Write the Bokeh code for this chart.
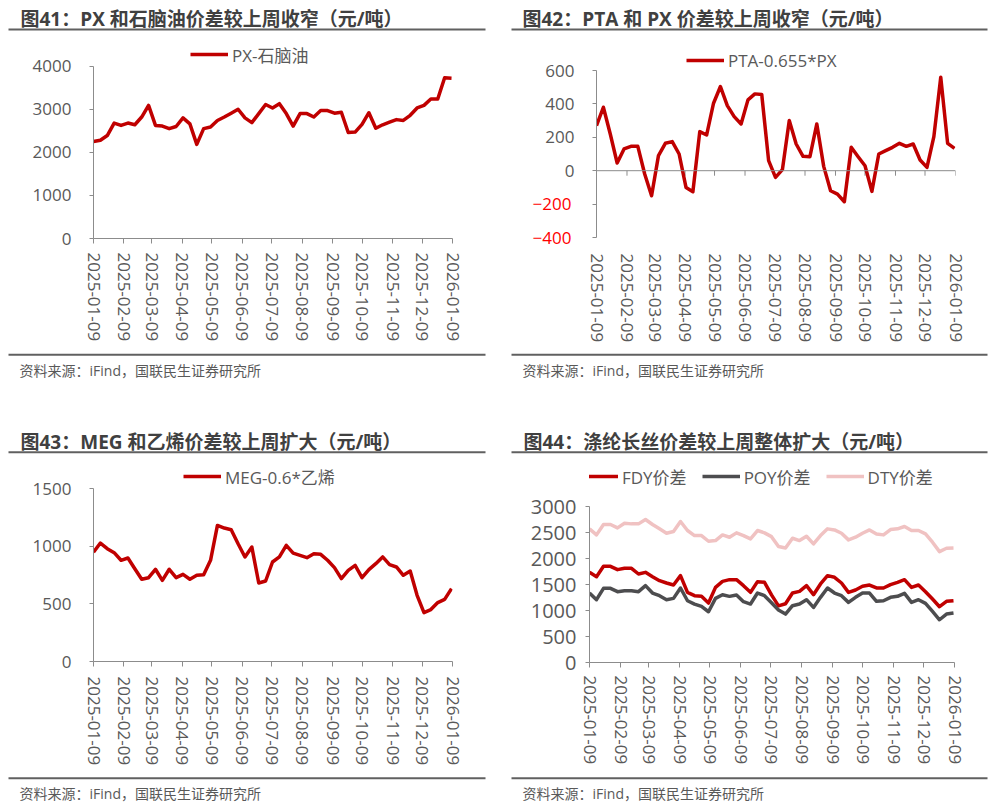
import pandas as pd
from bokeh.plotting import figure
from bokeh.layouts import column, row
from bokeh.models import (Range1d, FixedTicker, DatetimeTickFormatter, Legend, LegendItem,
                          LinearAxis, CustomJSTickFormatter, Span)
from bokeh.embed import file_html
from bokeh.resources import INLINE
from bokeh.core.properties import value

# ---------------- data ----------------
week_dates = pd.date_range("2025-01-09", periods=53, freq="7D")

x_tick_labels = ["2025-01-09", "2025-02-09", "2025-03-09", "2025-04-09", "2025-05-09",
                 "2025-06-09", "2025-07-09", "2025-08-09", "2025-09-09", "2025-10-09",
                 "2025-11-09", "2025-12-09", "2026-01-09"]

px_naphtha = [2250, 2280, 2390, 2680, 2625, 2680, 2640, 2820, 3090, 2625,
              2610, 2550, 2600, 2800, 2660, 2185, 2550, 2590, 2740, 2820,
              2910, 3000, 2800, 2690, 2900, 3110, 3030, 3130, 2900, 2610,
              2900, 2900, 2820, 2970, 2970, 2910, 2930, 2460, 2470, 2650,
              2920, 2560, 2640, 2700, 2760, 2740, 2860, 3030, 3090, 3240,
              3240, 3730, 3720]

pta_px = [270, 380, 220, 46, 130, 146, 146, -20, -150, 90,
          164, 174, 100, -100, -126, 234, 214, 404, 504, 390,
          324, 280, 424, 460, 456, 60, -40, 6, 300, 160,
          86, 84, 280, 26, -120, -140, -186, 140, 84, 30,
          -124, 100, 120, 140, 164, 146, 160, 64, 20, 204,
          560, 164, 134]

meg_ethylene = [950, 1029, 980, 945, 879, 899, 806, 714, 728, 801,
                705, 801, 728, 757, 714, 749, 754, 879, 1182, 1159,
                1145, 1023, 908, 994, 682, 699, 864, 908, 1009, 942,
                922, 902, 936, 931, 879, 815, 720, 792, 835, 728,
                798, 850, 908, 841, 821, 749, 786, 575, 425, 451,
                512, 540, 633]

fdy_spread = [1734, 1651, 1850, 1850, 1786, 1812, 1812, 1702, 1734, 1651,
              1574, 1529, 1490, 1670, 1349, 1285, 1272, 1143, 1445, 1561,
              1593, 1593, 1478, 1349, 1555, 1542, 1300, 1090, 1130, 1336,
              1368, 1478, 1304, 1510, 1670, 1638, 1529, 1349, 1394, 1465,
              1490, 1433, 1433, 1497, 1542, 1593, 1445, 1490, 1362, 1220,
              1073, 1176, 1188]

poy_spread = [1336, 1208, 1426, 1426, 1362, 1381, 1381, 1362, 1478, 1336,
              1285, 1208, 1233, 1433, 1188, 1124, 1079, 976, 1233, 1304,
              1272, 1298, 1169, 1124, 1336, 1285, 1150, 1009, 931, 1092,
              1124, 1208, 1060, 1253, 1433, 1336, 1285, 1156, 1253, 1336,
              1336, 1176, 1188, 1253, 1272, 1330, 1156, 1208, 1137, 983,
              822, 931, 950]

dty_spread = [2570, 2454, 2653, 2653, 2589, 2679, 2666, 2666, 2750, 2653,
              2570, 2486, 2518, 2711, 2538, 2441, 2441, 2332, 2345, 2454,
              2409, 2493, 2441, 2377, 2538, 2493, 2420, 2229, 2203, 2390,
              2345, 2428, 2280, 2441, 2570, 2550, 2486, 2358, 2409, 2486,
              2550, 2473, 2454, 2557, 2570, 2615, 2538, 2538, 2473, 2313,
              2133, 2197, 2203]

p1_yticks = [0, 1000, 2000, 3000, 4000]
p2_yticks = [-400, -200, 0, 200, 400, 600]
p2_yticks_neg = [-400, -200]
p3_yticks = [0, 500, 1000, 1500]
p4_yticks = [0, 500, 1000, 1500, 2000, 2500, 3000]

titles = ["图41：PX 和石脑油价差较上周收窄（元/吨）",
          "图42：PTA 和 PX 价差较上周收窄（元/吨）",
          "图43：MEG 和乙烯价差较上周扩大（元/吨）",
          "图44：涤纶长丝价差较上周整体扩大（元/吨）"]
source_text = "资料来源：iFind，国联民生证券研究所"

# ---------------- styles ----------------
FONT = "Open Sans, Noto Sans CJK SC"
AXIS_GRAY = "#8c8c8c"
LABEL_GRAY = "#595959"
TITLE_GRAY = "#404040"
RULE_GRAY = "#606060"
RED = "#C00000"
DARK = "#4D4D4F"
PINK = "#F0C2C2"
PANEL_W = 497
CHART_H = 312
LEG_H = 23

x_ticks_ms = [pd.Timestamp(s).timestamp() * 1000 for s in x_tick_labels]
x_tick_dates = pd.to_datetime(x_tick_labels)
ymd = "%Y-%m-%d"
date_fmt = dict(microseconds=ymd, milliseconds=ymd, seconds=ymd, minsec=ymd, minutes=ymd,
                hourmin=ymd, hours=ymd, days=ymd, months=ymd, years=ymd)


def blank_fig(h):
    p = figure(width=PANEL_W, height=h, x_range=Range1d(0, PANEL_W), y_range=Range1d(h, 0),
               x_axis_location=None, y_axis_location=None, output_backend="svg",
               toolbar_location=None, min_border=0, outline_line_color=None,
               frame_align=False)
    p.grid.visible = False
    return p


def header(text, tx, lx0, lx1, h, ty, ly):
    p = blank_fig(h)
    p.text(x=[tx], y=[ty], text=[text], text_font=value(FONT), text_font_size="19px",
           text_font_style="bold", text_color=TITLE_GRAY, text_align="left",
           text_baseline="middle")
    p.segment(x0=[lx0], y0=[ly], x1=[lx1], y1=[ly], line_color=RULE_GRAY, line_width=2)
    return p


def footer(tx, lx0, lx1, h, ly, ty):
    p = blank_fig(h)
    p.segment(x0=[lx0], y0=[ly], x1=[lx1], y1=[ly], line_color=RULE_GRAY, line_width=2)
    p.text(x=[tx], y=[ty], text=[source_text], text_font=value(FONT), text_font_size="14px",
           text_color=LABEL_GRAY, text_align="left", text_baseline="middle")
    return p


def chart(left, right, bottom, y_bot, y_top, top_tick_px, yticks, ytick_size="17px",
          ystand=18, xstand=9, x_ticks_on=True):
    # frame spans from the top of the figure; extra room above the top tick holds the legend
    frame_h = CHART_H - bottom
    data_px = frame_h - top_tick_px
    y_end = y_top + top_tick_px * (y_top - y_bot) / data_px
    p = figure(width=PANEL_W, height=CHART_H, x_axis_type="datetime",
               x_range=Range1d(x_ticks_ms[0], x_ticks_ms[-1]), y_range=Range1d(y_bot, y_end),
               output_backend="svg", toolbar_location=None,
               min_border_left=left, min_border_right=right,
               min_border_top=0, min_border_bottom=bottom, outline_line_color=None,
               frame_align=False)
    p.grid.visible = False
    xa = p.xaxis[0]
    xa.ticker = FixedTicker(ticks=x_ticks_ms)
    xa.formatter = DatetimeTickFormatter(**date_fmt)
    xa.major_label_orientation = "vertical"
    xa.major_label_text_font = FONT
    xa.major_label_text_font_size = "17px"
    xa.major_label_text_color = LABEL_GRAY
    xa.major_label_standoff = xstand
    xa.minor_tick_line_color = None
    xa.minor_tick_out = 0
    if x_ticks_on:
        xa.axis_line_color = AXIS_GRAY
        xa.major_tick_line_color = AXIS_GRAY
        xa.major_tick_out = 5
        xa.major_tick_in = 0
    else:
        xa.axis_line_color = None
        xa.major_tick_line_color = None
        xa.major_tick_out = 0
        xa.major_tick_in = 0
    ya = p.yaxis[0]
    ya.bounds = (y_bot, y_top)
    ya.ticker = FixedTicker(ticks=yticks)
    ya.major_label_text_font = FONT
    ya.major_label_text_font_size = ytick_size
    ya.major_label_text_color = LABEL_GRAY
    ya.major_label_standoff = ystand
    ya.axis_line_color = AXIS_GRAY
    ya.major_tick_line_color = AXIS_GRAY
    ya.major_tick_out = 4
    ya.major_tick_in = 0
    ya.minor_tick_line_color = None
    ya.minor_tick_out = 0
    return p, frame_h


def add_legend(p, frame_h, items, vx, center_px):
    vy = frame_h - center_px - LEG_H / 2
    leg = Legend(items=items, location=(vx, vy), orientation="horizontal",
                 border_line_color=None, background_fill_alpha=0, padding=0, margin=0,
                 glyph_width=38, glyph_height=20, label_height=20, label_standoff=4,
                 spacing=15, label_text_font=FONT, label_text_font_size="17px",
                 label_text_color=LABEL_GRAY)
    p.add_layout(leg, "center")


LW = 3.5

# ---------- Panel 1 ----------
c1, fh1 = chart(93, 45, 112, 0, 4000, 27.7, p1_yticks)
r1 = c1.line(week_dates, px_naphtha, line_color=RED, line_width=LW, line_join="round")
add_legend(c1, fh1, [LegendItem(label="PX-石脑油", renderers=[r1])], 97, 17)
panel1 = column(header(titles[0], 20, 8, 485, 38, 18.3, 29), c1,
                footer(19, 8, 485, 80, 4.3, 20), spacing=0)

# ---------- Panel 2 ----------
c2, fh2 = chart(99, 39, 113, -400, 600, 32, p2_yticks, xstand=16, x_ticks_on=False)
c2.yaxis[0].formatter = CustomJSTickFormatter(code="return tick < 0 ? '' : String(tick)")
neg_axis = LinearAxis(ticker=FixedTicker(ticks=p2_yticks_neg),
                      major_label_text_color="#FF0000", major_label_text_font=FONT,
                      major_label_text_font_size="17px", major_label_standoff=-29,
                      axis_line_color=None, major_tick_line_color=None,
                      major_tick_out=0, major_tick_in=0, minor_tick_line_color=None,
                      minor_tick_out=0)
c2.add_layout(neg_axis, "left")
c2.add_layout(Span(location=0, dimension="width", line_color=AXIS_GRAY, line_width=1))
c2.segment(x0=x_tick_dates, y0=0, x1=x_tick_dates, y1=-30, line_color=AXIS_GRAY, line_width=1)
r2 = c2.line(week_dates, pta_px, line_color=RED, line_width=LW, line_join="round")
add_legend(c2, fh2, [LegendItem(label="PTA-0.655*PX", renderers=[r2])], 90, 22)
panel2 = column(header(titles[1], 25, 14, 490, 38, 18.3, 29), c2,
                footer(25, 14, 490, 80, 4.3, 20), spacing=0)

# ---------- Panel 3 ----------
c3, fh3 = chart(93, 45, 111, 0, 1500, 28.3, p3_yticks, xstand=10)
r3 = c3.line(week_dates, meg_ethylene, line_color=RED, line_width=LW, line_join="round")
add_legend(c3, fh3, [LegendItem(label="MEG-0.6*乙烯", renderers=[r3])], 90, 17)
panel3 = column(header(titles[2], 20, 8, 485, 30, 11.3, 21.8), c3,
                footer(19, 8, 485, 32, 5.7, 21), spacing=0)

# ---------- Panel 4 ----------
c4, fh4 = chart(92, 40, 110, 0, 3000, 46, p4_yticks, ytick_size="20px", ystand=9, xstand=8)
r4a = c4.line(week_dates, fdy_spread, line_color=RED, line_width=LW, line_join="round")
r4b = c4.line(week_dates, poy_spread, line_color=DARK, line_width=LW, line_join="round")
r4c = c4.line(week_dates, dty_spread, line_color=PINK, line_width=LW, line_join="round")
add_legend(c4, fh4, [LegendItem(label="FDY价差", renderers=[r4a]),
                     LegendItem(label="POY价差", renderers=[r4b]),
                     LegendItem(label="DTY价差", renderers=[r4c])], -9, 17)
panel4 = column(header(titles[3], 26, 14, 490, 30, 11.3, 21.8), c4,
                footer(25, 14, 490, 32, 5.7, 21), spacing=0)

layout = column(row(panel1, panel2, spacing=0), row(panel3, panel4, spacing=0), spacing=0)

with open("out.html", "w") as f:
    f.write(file_html(layout, INLINE))
